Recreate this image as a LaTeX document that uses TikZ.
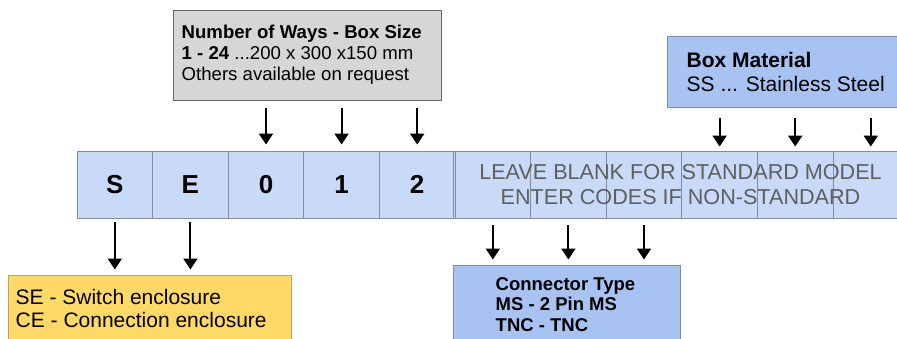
\documentclass[tikz,border=0pt]{standalone}
\usepackage{fontspec}
\setmainfont{Liberation Sans}
\usetikzlibrary{arrows.meta,calc}
\definecolor{cellblue}{HTML}{C9DAF8}
\definecolor{cellline}{HTML}{7F8CA2}
\definecolor{graybox}{HTML}{D6D6D6}
\definecolor{grayborder}{HTML}{666666}
\definecolor{bluebox}{HTML}{A8C3F2}
\definecolor{blueborder}{HTML}{7D8CA6}
\definecolor{yelbox}{HTML}{FFD966}
\definecolor{yelborder}{HTML}{BFA15A}
\definecolor{graytext}{HTML}{5E5E5E}
\newcommand{\fsz}[2]{\fontsize{#1pt}{#2pt}\selectfont}
\begin{document}
\begin{tikzpicture}[x=1pt,y=-1pt,
  cellbox/.style={draw=cellline, line width=0.9pt, fill=cellblue, minimum width=75.6pt, minimum height=67pt, inner sep=0pt, font=\fsz{26}{30}\bfseries},
  infobox/.style={draw, line width=1pt, inner sep=0pt},
  boxtext/.style={anchor=west, align=left, inner sep=0pt},
  arr/.style={line width=2pt, -{Triangle[width=14pt,length=11pt]}}
]
\clip (0,0) rectangle (897,338);
\fill[white] (0,0) rectangle (897,338);
% code cells
\foreach \t [count=\i from 0] in {S,E,0,1,2, , , , , , }{
  \node[cellbox] (c\i) at (77+75.6*\i+37.8,184.5) {\t};
}
\draw[cellline, line width=0.9pt] ([xshift=-2pt]c4.north east) -- ([xshift=-2pt]c4.south east);
\node[align=center, text=graytext, inner sep=0pt, font=\fsz{21.6}{25}] (blank) at (680.5,184.5)
  {LEAVE BLANK FOR STANDARD MODEL\\ENTER CODES IF NON-STANDARD};
% top gray box
\node[infobox, draw=grayborder, fill=graybox, minimum width=268pt, minimum height=90pt] (ways) at (307,55) {};
\node[boxtext, font=\fsz{18.6}{21}] (waystxt) at ([xshift=9pt]ways.west)
  {\textbf{Number of Ways - Box Size}\\\textbf{1 - 24} ...200 x 300 x150 mm\\Others available on request};
% box material
\node[infobox, draw=blueborder, fill=bluebox, minimum width=240pt, minimum height=71pt] (mat) at (787,71.5) {};
\node[boxtext, font=\fsz{21}{24}] (mattxt) at ([xshift=20pt]mat.west)
  {\textbf{Box Material}\\SS ... Stainless Steel};
% enclosure box
\node[infobox, draw=yelborder, fill=yelbox, minimum width=283pt, minimum height=67pt] (encl) at (149.5,308.5) {};
\node[boxtext, font=\fsz{21}{23}] (encltxt) at ([xshift=8pt]encl.west)
  {SE - Switch enclosure\\CE - Connection enclosure};
% connector box
\node[infobox, draw=blueborder, fill=bluebox, minimum width=227pt, minimum height=79pt] (conn) at (566.5,304.5) {};
\node[boxtext, font=\fsz{18.5}{20.5}\bfseries] (conntxt) at ([xshift=43pt]conn.west)
  {Connector Type\\MS - 2 Pin MS\\TNC - TNC};
% arrows
\foreach \k in {2,3,4}{
  \draw[arr, shorten <=7pt, shorten >=6pt] (ways.south -| c\k) -- (c\k.north);
}
\foreach \k in {8,9,10}{
  \draw[arr, shorten <=10pt, shorten >=4pt] (mat.south -| c\k) -- (c\k.north);
}
\foreach \k in {0,1}{
  \draw[arr, shorten <=4pt, shorten >=5pt] (c\k.south) -- (c\k.south |- encl.north);
}
\foreach \k in {5,6,7}{
  \draw[arr, shorten <=7pt, shorten >=5pt] (c\k.south) -- (c\k.south |- conn.north);
}
\end{tikzpicture}
\end{document}
